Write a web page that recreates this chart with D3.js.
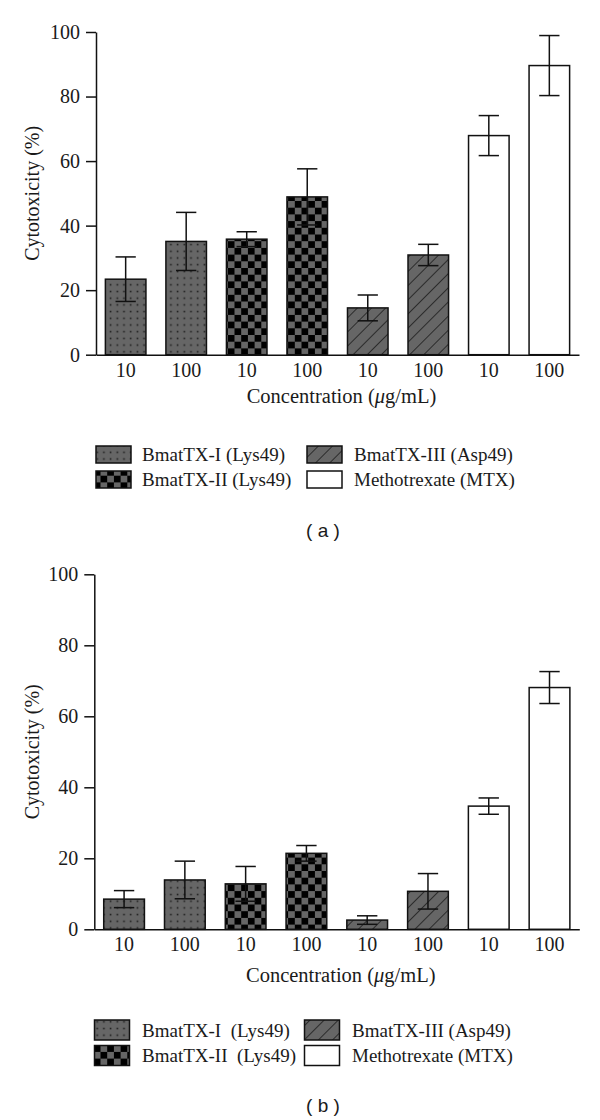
<!DOCTYPE html>
<html>
<head>
<meta charset="utf-8">
<script src="https://cdn.jsdelivr.net/npm/d3@7"></script>
<style>
  html, body { margin: 0; padding: 0; background: #fff; }
  svg { display: block; }
  text { fill: #1a1a1a; }
</style>
</head>
<body>
<svg id="chart" width="600" height="1120"></svg>
<script>
// ---- data ----
const categories = ["10", "100", "10", "100", "10", "100", "10", "100"];
const barGroup = [0, 0, 1, 1, 2, 2, 3, 3];
const seriesNames = ["BmatTX-I (Lys49)", "BmatTX-II (Lys49)", "BmatTX-III (Asp49)", "Methotrexate (MTX)"];
const seriesNamesB = ["BmatTX-I  (Lys49)", "BmatTX-II  (Lys49)", "BmatTX-III (Asp49)", "Methotrexate (MTX)"];
const valuesA = [23.4, 35.1, 35.8, 48.9, 14.5, 30.9, 67.9, 89.6];
const errorsA = [6.9, 9.0, 2.3, 8.7, 4.0, 3.3, 6.2, 9.3];
const valuesB = [8.5, 13.9, 12.8, 21.4, 2.6, 10.7, 34.7, 68.1];
const errorsB = [2.4, 5.3, 4.9, 2.2, 1.2, 5.0, 2.3, 4.5];
const yTicks = [0, 20, 40, 60, 80, 100];

const svg = d3.select("#chart");
const SERIF = "'Liberation Serif', 'Times New Roman', serif";
const SANS = "'Liberation Sans', Arial, sans-serif";
const GRAY = "#666666";
const FS = 20;
const LFS = 19;

// ---- patterns ----
const defs = svg.append("defs");
const pDots = defs.append("pattern").attr("id", "pDots").attr("patternUnits", "userSpaceOnUse")
  .attr("width", 6.7).attr("height", 6.7);
pDots.append("rect").attr("width", 6.7).attr("height", 6.7).attr("fill", GRAY);
pDots.append("rect").attr("x", 2.6).attr("y", 2.6).attr("width", 1.6).attr("height", 1.6).attr("fill", "#1e1e1e");
const pCheck = defs.append("pattern").attr("id", "pCheck").attr("patternUnits", "userSpaceOnUse")
  .attr("width", 13.4).attr("height", 13.4);
pCheck.append("rect").attr("width", 13.4).attr("height", 13.4).attr("fill", GRAY);
pCheck.append("rect").attr("width", 6.7).attr("height", 6.7).attr("fill", "#000");
pCheck.append("rect").attr("x", 6.7).attr("y", 6.7).attr("width", 6.7).attr("height", 6.7).attr("fill", "#000");
const pHatch = defs.append("pattern").attr("id", "pHatch").attr("patternUnits", "userSpaceOnUse")
  .attr("width", 10).attr("height", 10).attr("patternTransform", "rotate(45)");
pHatch.append("rect").attr("width", 10).attr("height", 10).attr("fill", GRAY);
pHatch.append("line").attr("x1", 0).attr("y1", 0).attr("x2", 0).attr("y2", 10)
  .attr("stroke", "#111").attr("stroke-width", 1.4);

const fills = ["url(#pDots)", "url(#pCheck)", "url(#pHatch)", "#ffffff"];

function drawPanel(cfg) {
  const g = svg.append("g");
  const x = d3.scaleBand().domain(d3.range(categories.length))
    .range([cfg.x0, cfg.x1]).paddingInner(0.33).paddingOuter(0.155);
  const y = d3.scaleLinear().domain([0, 100]).range([cfg.yBottom, cfg.yTop]);

  g.selectAll("rect.bar").data(cfg.values).join("rect")
    .attr("class", "bar")
    .attr("x", (d, i) => x(i))
    .attr("width", x.bandwidth())
    .attr("y", d => y(d))
    .attr("height", d => y(0) - y(d))
    .attr("fill", (d, i) => fills[barGroup[i]])
    .attr("stroke", "#111").attr("stroke-width", 1.5);

  const capW = x.bandwidth() / 2;
  const cx = i => x(i) + x.bandwidth() / 2;
  const eg = g.selectAll("g.err").data(cfg.values).join("g").attr("class", "err")
    .attr("stroke", "#111").attr("stroke-width", 1.5);
  eg.append("line")
    .attr("x1", (d, i) => cx(i)).attr("x2", (d, i) => cx(i))
    .attr("y1", (d, i) => y(d + cfg.errors[i])).attr("y2", (d, i) => y(d - cfg.errors[i]));
  eg.append("line")
    .attr("x1", (d, i) => cx(i) - capW / 2).attr("x2", (d, i) => cx(i) + capW / 2)
    .attr("y1", (d, i) => y(d + cfg.errors[i])).attr("y2", (d, i) => y(d + cfg.errors[i]));
  eg.append("line")
    .attr("x1", (d, i) => cx(i) - capW / 2).attr("x2", (d, i) => cx(i) + capW / 2)
    .attr("y1", (d, i) => y(d - cfg.errors[i])).attr("y2", (d, i) => y(d - cfg.errors[i]));

  const ya = g.append("g").attr("transform", `translate(${cfg.x0},0)`)
    .call(d3.axisLeft(y).tickValues(yTicks).tickSize(10).tickSizeOuter(0).tickPadding(6));
  ya.selectAll("path, line").attr("stroke", "#111").attr("stroke-width", 1.5);
  ya.selectAll("text").attr("font-family", SERIF).attr("font-size", FS).attr("fill", "#1a1a1a");

  const xa = g.append("g").attr("transform", `translate(0,${cfg.yBottom})`)
    .call(d3.axisBottom(x).tickSize(0).tickSizeOuter(0).tickPadding(cfg.xPad).tickFormat(i => categories[i]));
  xa.select("path").attr("stroke", "#111").attr("stroke-width", 1.5);
  xa.selectAll("text").attr("font-family", SERIF).attr("font-size", FS).attr("fill", "#1a1a1a");

  g.append("text").attr("transform", `translate(${cfg.yTitleX},${(cfg.yTop + cfg.yBottom) / 2}) rotate(-90)`)
    .attr("text-anchor", "middle").attr("dominant-baseline", "central")
    .attr("font-family", SERIF).attr("font-size", FS)
    .text("Cytotoxicity (%)");
  const xt = g.append("text").attr("x", (cfg.x0 + cfg.x1) / 2 + 4).attr("y", cfg.xTitleY)
    .attr("text-anchor", "middle").attr("font-family", SERIF).attr("font-size", FS + 0.5);
  xt.append("tspan").text("Concentration (");
  xt.append("tspan").attr("font-style", "italic").text("\u03bc");
  xt.append("tspan").text("g/mL)");

  const lg = g.append("g");
  cfg.names.forEach((name, k) => {
    const c = k < 2 ? 0 : 1;
    const r = k % 2;
    const sx = cfg.legCols[c], sy = cfg.legRows[r];
    lg.append("rect").attr("x", sx).attr("y", sy - cfg.swH / 2).attr("width", 35).attr("height", cfg.swH)
      .attr("fill", fills[k]).attr("stroke", "#111").attr("stroke-width", 1.5);
    lg.append("text").attr("x", cfg.legText[c]).attr("y", sy)
      .attr("dominant-baseline", "central").attr("font-family", SERIF).attr("font-size", LFS)
      .style("white-space", "pre").text(name);
  });

  g.append("text").attr("x", 323).attr("y", cfg.labelY).attr("text-anchor", "middle")
    .attr("dominant-baseline", "central").attr("font-family", SANS).attr("font-size", 19)
    .style("white-space", "pre").text(cfg.label);
}

drawPanel({
  values: valuesA, errors: errorsA, names: seriesNames,
  x0: 96, x1: 579, yTop: 32, yBottom: 354.7, xPad: 8, xTitleY: 403, yTitleX: 32,
  legCols: [96, 307], legText: [142, 354], legRows: [454.5, 479.5], swH: 17,
  labelY: 530, label: "( a )"
});
drawPanel({
  values: valuesB, errors: errorsB, names: seriesNamesB,
  x0: 94.3, x1: 579.3, yTop: 574.3, yBottom: 929.3, xPad: 8, xTitleY: 982, yTitleX: 32,
  legCols: [94.5, 304.5], legText: [142, 352], legRows: [1030, 1055.5], swH: 20,
  labelY: 1105, label: "( b )"
});
</script>
</body>
</html>
